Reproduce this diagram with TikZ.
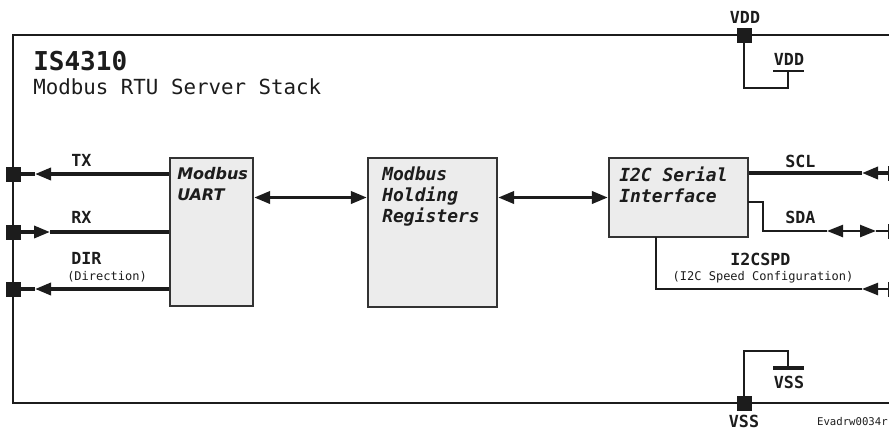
\documentclass[tikz,border=0pt]{standalone}
\usepackage{fontspec}
\setmainfont{DejaVu Sans}
\setsansfont{DejaVu Sans}
\setmonofont{DejaVu Sans Mono}
\usetikzlibrary{arrows.meta}
\definecolor{ink}{HTML}{1C1C1C}
\definecolor{boxline}{HTML}{333333}
\definecolor{boxfill}{HTML}{ECECEC}
\begin{document}
\begin{tikzpicture}[x=0.75pt,y=-0.75pt,
  frame/.style={draw=ink,line width=1.6pt},
  blk/.style={draw=boxline,fill=boxfill,line width=1.6pt,inner sep=0pt},
  pin/.style={draw=ink,fill=ink,minimum size=10.5pt,inner sep=0pt},
  sig/.style={draw=ink,line width=2.6pt},
  wire/.style={draw=ink,line width=1.8pt},
  pwr/.style={draw=ink,line width=1.2pt},
  tri/.style={-{Triangle[length=12pt,width=9pt]}},
  tri2/.style={{Triangle[length=12pt,width=9pt]}-{Triangle[length=12pt,width=9pt]}},
  lbl/.style={font=\ttfamily\bfseries\fontsize{12.5}{14}\selectfont,text=ink,inner sep=0pt},
  sub/.style={font=\ttfamily\fontsize{9}{10}\selectfont,text=ink,inner sep=0pt},
  blktxt/.style={font=\ttfamily\bfseries\itshape\fontsize{13.5}{15.75}\selectfont,text=ink,inner sep=0pt,align=left},
]
\useasboundingbox (0,0) rectangle (889,429);
% frame
\draw[frame] (13,35) rectangle (902,403);
% blocks
\node[blk,minimum width=83*0.75pt,minimum height=148*0.75pt] (uart) at (211.5,232) {};
\node[blk,minimum width=129*0.75pt,minimum height=149*0.75pt] (hold) at (432.5,232.5) {};
\node[blk,minimum width=139*0.75pt,minimum height=79*0.75pt] (i2c) at (678.5,197.5) {};
\node[blktxt,font=\sffamily\bfseries\itshape\fontsize{12}{15.75}\selectfont,anchor=north west] (uarttxt) at (177,167) {Modbus\\UART};
\node[blktxt,anchor=north west] (holdtxt) at (382,167) {Modbus\\Holding\\Registers};
\node[blktxt,anchor=north west] (i2ctxt) at (619,167) {I2C Serial\\Interface};
% title
\node[font=\ttfamily\bfseries\fontsize{19.5}{21}\selectfont,text=ink,inner sep=0pt,anchor=base west] (title) at (33,70) {IS4310};
\node[font=\ttfamily\fontsize{15.6}{17}\selectfont,text=ink,inner sep=0pt,anchor=base west] (subtitle) at (33,94) {Modbus RTU Server Stack};
% pins
\node[pin] (txpin) at (13,174) {};
\node[pin] (rxpin) at (13,232) {};
\node[pin] (dirpin) at (13,289) {};
\node[pin] (sclpin) at (895,173) {};
\node[pin] (sdapin) at (895,231) {};
\node[pin] (spdpin) at (895,289) {};
\node[pin] (vddpin) at (744,35) {};
\node[pin] (vsspin) at (744,403) {};
% coordinates
\coordinate (txtip) at (35,174);
\coordinate (rxtip) at (50,232);
\coordinate (dirtip) at (35,289);
\coordinate (scltip) at (862,173);
\coordinate (sdaout) at (748,202);
\coordinate (sdabend) at (763,231);
\coordinate (sdal) at (827,231);
\coordinate (sdar) at (876,231);
\coordinate (spdout) at (656,237);
\coordinate (spdtip) at (862,289);
\coordinate (vddc1) at (744,88);
\coordinate (vddc2) at (788,71);
\coordinate (vddb1) at (773,71);
\coordinate (vddb2) at (804,71);
\coordinate (vssc1) at (744,351);
\coordinate (vssc2) at (788,368);
\coordinate (vssb1) at (773,368);
\coordinate (vssb2) at (804,368);
% internal arrows
\draw[sig,tri2] (uart.east |- i2c.west) -- (hold.west |- i2c.west);
\draw[sig,tri2] (hold.east |- i2c.west) -- (i2c.west);
% left signals
\draw[sig,tri] (uart.west |- txpin) -- (txtip);
\draw[sig] (txtip) -- (txpin.east);
\draw[sig,tri] (rxpin.east) -- (rxtip);
\draw[sig] (rxtip) -- (uart.west |- rxpin);
\draw[sig,tri] (uart.west |- dirpin) -- (dirtip);
\draw[sig] (dirtip) -- (dirpin.east);
% right signals
\draw[sig,tri] (sclpin.west) -- (scltip);
\draw[sig] (scltip) -- (i2c.east |- sclpin);
\draw[wire] (sdaout) -| (sdabend) -- (sdal);
\draw[wire,tri2] (sdal) -- (sdar);
\draw[wire] (sdar) -- (sdapin.west);
\draw[wire,tri] (spdpin.west) -- (spdtip);
\draw[wire] (spdtip) -| (spdout);
% power
\draw[pwr] (vddpin.south) -- (vddc1) -| (vddc2);
\draw[pwr,line width=1.6pt] (vddb1) -- (vddb2);
\draw[pwr] (vsspin.north) -- (vssc1) -| (vssc2);
\draw[pwr,line width=2.4pt] (vssb1) -- (vssb2);
% labels
\node[lbl,anchor=base west] (txl) at (71,166) {TX};
\node[lbl,anchor=base west] (rxl) at (71,223) {RX};
\node[lbl,anchor=base west] (dirl) at (71,264) {DIR};
\node[sub,anchor=base] (dirs) at (107,280) {(Direction)};
\node[lbl,anchor=base west] (scll) at (785,167) {SCL};
\node[lbl,anchor=base west] (sdal2) at (785,223) {SDA};
\node[lbl,anchor=base west] (spdl) at (730,265) {I2CSPD};
\node[sub,anchor=base] (spds) at (763,280) {(I2C Speed Configuration)};
\node[lbl,anchor=base] (vddtop) at (745,23) {VDD};
\node[lbl,anchor=base] (vddin) at (789,65) {VDD};
\node[lbl,anchor=base] (vssin) at (789,388) {VSS};
\node[lbl,anchor=base] (vssbot) at (744,427) {VSS};
\node[font=\ttfamily\fontsize{8}{9}\selectfont,text=ink,inner sep=0pt,anchor=base east] (ref) at (888,425) {Evadrw0034r};
\end{tikzpicture}
\end{document}
